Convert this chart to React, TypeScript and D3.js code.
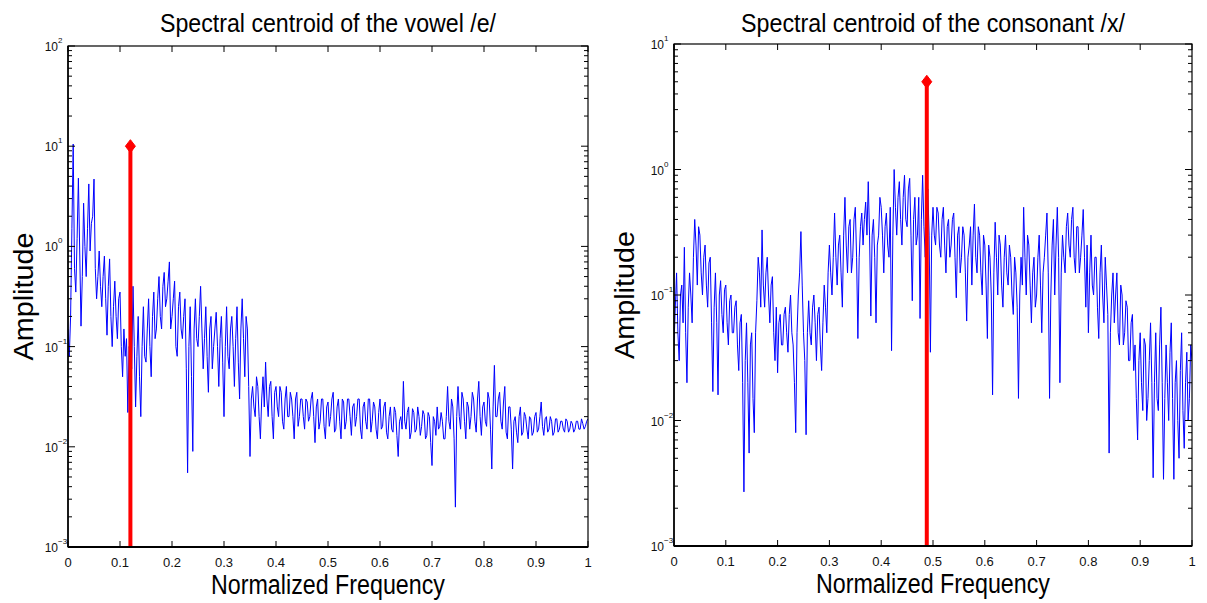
import React from "react";
import * as d3 from "d3";

// ---------- data (step 0.0025 in normalized frequency) ----------
const vowelAmp = [
  0.15, 0.08, 0.2, 1.5, 10.5, 0.6, 0.35, 1.2, 4.8, 0.9,
  0.16, 0.5, 2.7, 1.0, 0.5, 1.5, 4.2, 0.9, 1.7, 2.0,
  4.7, 0.6, 0.3, 0.5, 0.9, 0.4, 0.25, 0.5, 0.8, 0.3,
  0.13, 0.4, 0.75, 0.2, 0.1, 0.25, 0.45, 0.2, 0.12, 0.3,
  0.35, 0.1, 0.05, 0.15, 0.08, 0.12, 0.022, 0.1, 0.09, 0.06,
  0.4, 0.1, 0.025, 0.08, 0.2, 0.05, 0.02, 0.1, 0.25, 0.08,
  0.07, 0.15, 0.3, 0.1, 0.05, 0.2, 0.35, 0.12, 0.15, 0.3,
  0.5, 0.2, 0.15, 0.4, 0.55, 0.25, 0.3, 0.45, 0.7, 0.15,
  0.2, 0.3, 0.45, 0.1, 0.08, 0.25, 0.35, 0.15, 0.12, 0.2,
  0.3, 0.06, 0.0055, 0.1, 0.25, 0.05, 0.009, 0.15, 0.3, 0.12,
  0.1, 0.2, 0.4, 0.15, 0.06, 0.12, 0.25, 0.08, 0.035, 0.15,
  0.2, 0.06, 0.1, 0.15, 0.22, 0.1, 0.04, 0.12, 0.2, 0.07,
  0.02, 0.1, 0.25, 0.08, 0.06, 0.15, 0.2, 0.1, 0.04, 0.12,
  0.25, 0.07, 0.03, 0.15, 0.3, 0.12, 0.05, 0.2, 0.15, 0.04,
  0.008, 0.03, 0.04, 0.025, 0.02, 0.05, 0.04, 0.02, 0.012, 0.03,
  0.05, 0.025, 0.07, 0.03, 0.02, 0.04, 0.045, 0.02, 0.012, 0.035,
  0.04, 0.025, 0.02, 0.04, 0.035, 0.018, 0.015, 0.03, 0.04, 0.02,
  0.02, 0.035, 0.03, 0.02, 0.012, 0.03, 0.035, 0.016, 0.02, 0.03,
  0.03, 0.02, 0.015, 0.03, 0.028, 0.018, 0.02, 0.03, 0.035, 0.02,
  0.011, 0.025, 0.03, 0.015, 0.018, 0.03, 0.03, 0.016, 0.012, 0.025,
  0.028, 0.016, 0.02, 0.03, 0.035, 0.014, 0.015, 0.025, 0.03, 0.018,
  0.012, 0.03, 0.028, 0.015, 0.018, 0.03, 0.03, 0.02, 0.013, 0.025,
  0.027, 0.016, 0.02, 0.03, 0.03, 0.015, 0.012, 0.025, 0.028, 0.018,
  0.015, 0.03, 0.03, 0.014, 0.018, 0.028, 0.025, 0.015, 0.012, 0.022,
  0.03, 0.015, 0.016, 0.025, 0.028, 0.014, 0.012, 0.02, 0.025, 0.015,
  0.014, 0.025, 0.022, 0.013, 0.008, 0.018, 0.02, 0.015, 0.045, 0.018,
  0.015, 0.022, 0.025, 0.012, 0.014, 0.024, 0.022, 0.014, 0.015, 0.025,
  0.02, 0.013, 0.016, 0.023, 0.021, 0.012, 0.013, 0.022, 0.02, 0.011,
  0.0065, 0.02, 0.018, 0.013, 0.025, 0.015, 0.016, 0.022, 0.018, 0.012,
  0.012, 0.02, 0.04, 0.018, 0.015, 0.03, 0.025, 0.012, 0.0025, 0.02,
  0.04, 0.02, 0.015, 0.035, 0.03, 0.018, 0.012, 0.028, 0.025, 0.015,
  0.02, 0.035, 0.03, 0.018, 0.014, 0.03, 0.045, 0.02, 0.013, 0.025,
  0.028, 0.018, 0.016, 0.035, 0.03, 0.015, 0.006, 0.025, 0.065, 0.02,
  0.02, 0.03, 0.035, 0.018, 0.015, 0.028, 0.04, 0.014, 0.012, 0.025,
  0.025, 0.015, 0.006, 0.018, 0.02, 0.014, 0.011, 0.02, 0.025, 0.013,
  0.014, 0.022, 0.02, 0.015, 0.012, 0.02, 0.019, 0.013, 0.014, 0.02,
  0.022, 0.014, 0.015, 0.02, 0.028, 0.016, 0.013, 0.019, 0.02, 0.014,
  0.015, 0.02, 0.018, 0.013, 0.014, 0.019, 0.019, 0.014, 0.015, 0.018,
  0.018, 0.015, 0.014, 0.019, 0.018, 0.014, 0.015, 0.018, 0.017, 0.014,
  0.015, 0.018, 0.018, 0.015, 0.015, 0.019, 0.017, 0.015, 0.016, 0.018,
  0.019,
];

const consonantAmp = [
  0.04, 0.08, 0.15, 0.05, 0.03, 0.1, 0.12, 0.06, 0.24, 0.05,
  0.02, 0.08, 0.15, 0.1, 0.06, 0.2, 0.4, 0.25, 0.12, 0.35,
  0.3, 0.15, 0.1, 0.2, 0.25, 0.12, 0.08, 0.18, 0.2, 0.06,
  0.017, 0.08, 0.15, 0.06, 0.016, 0.1, 0.13, 0.07, 0.05, 0.11,
  0.12, 0.06, 0.04, 0.09, 0.1, 0.05, 0.05, 0.08, 0.09, 0.04,
  0.025, 0.06, 0.07, 0.02, 0.0027, 0.03, 0.06, 0.02, 0.0055, 0.04,
  0.05, 0.015, 0.008, 0.05, 0.09, 0.2, 0.15, 0.08, 0.33, 0.12,
  0.08, 0.15, 0.2, 0.1, 0.06, 0.12, 0.14, 0.05, 0.03, 0.08,
  0.024, 0.06, 0.07, 0.04, 0.04, 0.07, 0.08, 0.05, 0.035, 0.07,
  0.1, 0.05, 0.04, 0.02, 0.008, 0.05, 0.1, 0.15, 0.32, 0.12,
  0.05, 0.03, 0.0077, 0.05, 0.09, 0.05, 0.04, 0.08, 0.1, 0.06,
  0.03, 0.07, 0.08, 0.04, 0.025, 0.06, 0.12, 0.08, 0.05, 0.15,
  0.25, 0.15, 0.1, 0.2, 0.45, 0.2, 0.12, 0.25, 0.3, 0.15,
  0.08, 0.3, 0.6, 0.25, 0.15, 0.35, 0.4, 0.15, 0.2, 0.4,
  0.5, 0.2, 0.045, 0.2, 0.35, 0.45, 0.25, 0.4, 0.55, 0.3,
  0.8, 0.3, 0.068, 0.3, 0.4, 0.2, 0.06, 0.25, 0.3, 0.6,
  0.5, 0.3, 0.15, 0.35, 0.45, 0.25, 0.2, 0.5, 0.036, 0.3,
  1.0, 0.5, 0.3, 0.6, 0.8, 0.4, 0.25, 0.6, 0.9, 0.4,
  0.35, 0.7, 0.85, 0.3, 0.09, 0.4, 0.6, 0.25, 0.3, 0.6,
  0.065, 0.4, 0.9, 0.35, 0.2, 0.5, 0.7, 0.3, 0.035, 0.3,
  0.5, 0.3, 0.25, 0.5, 0.45, 0.25, 0.2, 0.4, 0.5, 0.25,
  0.15, 0.35, 0.4, 0.2, 0.25, 0.4, 0.45, 0.2, 0.095, 0.3,
  0.35, 0.15, 0.2, 0.35, 0.3, 0.15, 0.062, 0.2, 0.25, 0.35,
  0.12, 0.3, 0.53, 0.2, 0.15, 0.35, 0.3, 0.15, 0.1, 0.3,
  0.25, 0.12, 0.045, 0.25, 0.2, 0.1, 0.016, 0.15, 0.38, 0.2,
  0.1, 0.3, 0.25, 0.12, 0.08, 0.2, 0.3, 0.15, 0.12, 0.25,
  0.2, 0.1, 0.07, 0.2, 0.15, 0.08, 0.015, 0.1, 0.2, 0.12,
  0.5, 0.2, 0.1, 0.3, 0.25, 0.12, 0.06, 0.15, 0.2, 0.08,
  0.1, 0.2, 0.3, 0.12, 0.05, 0.15, 0.2, 0.3, 0.45, 0.15,
  0.015, 0.1, 0.25, 0.4, 0.1, 0.25, 0.5, 0.2, 0.02, 0.15,
  0.3, 0.2, 0.15, 0.35, 0.45, 0.25, 0.2, 0.4, 0.5, 0.2,
  0.15, 0.35, 0.35, 0.15, 0.2, 0.3, 0.48, 0.2, 0.08, 0.25,
  0.05, 0.15, 0.3, 0.12, 0.1, 0.2, 0.2, 0.08, 0.045, 0.15,
  0.25, 0.1, 0.06, 0.2, 0.12, 0.07, 0.0055, 0.05, 0.1, 0.15,
  0.06, 0.1, 0.15, 0.05, 0.04, 0.12, 0.1, 0.04, 0.05, 0.09,
  0.08, 0.03, 0.03, 0.06, 0.07, 0.025, 0.04, 0.015, 0.007, 0.03,
  0.05, 0.02, 0.012, 0.045, 0.04, 0.01, 0.015, 0.03, 0.06, 0.02,
  0.0035, 0.02, 0.05, 0.015, 0.012, 0.04, 0.08, 0.02, 0.0034, 0.015,
  0.04, 0.02, 0.01, 0.035, 0.06, 0.015, 0.0034, 0.02, 0.03, 0.01,
  0.005, 0.025, 0.05, 0.012, 0.006, 0.02, 0.035, 0.01, 0.015, 0.04,
  0.03,
];

const xTicks = [0, 0.1, 0.2, 0.3, 0.4, 0.5, 0.6, 0.7, 0.8, 0.9, 1];
const xTickLabels = ["0", "0.1", "0.2", "0.3", "0.4", "0.5", "0.6", "0.7", "0.8", "0.9", "1"];

const vowelExponents = [-3, -2, -1, 0, 1, 2];
const consonantExponents = [-3, -2, -1, 0, 1];

const vowelCentroid = { freq: 0.12, amp: 10 };
const consonantCentroid = { freq: 0.488, amp: 5 };

const titles = ["Spectral centroid of the vowel /e/", "Spectral centroid of the consonant /x/"];
const xLabel = "Normalized Frequency";
const yLabel = "Amplitude";

const FONT = "'Liberation Sans', Arial, Helvetica, sans-serif";

type PanelProps = {
  left: number;
  right: number;
  top: number;
  bottom: number;
  amps: number[];
  exps: number[];
  centroid: { freq: number; amp: number };
  title: string;
  titleWidth: number;
  ylabelX: number;
};

function Panel(p: PanelProps) {
  const x = d3.scaleLinear().domain([0, 1]).range([p.left, p.right]);
  const y = d3
    .scaleLog()
    .domain([Math.pow(10, p.exps[0]), Math.pow(10, p.exps[p.exps.length - 1])])
    .range([p.bottom, p.top]);
  const step = 1 / (p.amps.length - 1);
  const pts: [number, number][] = p.amps.map((a, i) => [i * step, a]);
  const line = d3
    .line<[number, number]>()
    .x((d) => x(d[0]))
    .y((d) => y(d[1]));

  const minor: number[] = [];
  for (let k = 0; k < p.exps.length - 1; k++) {
    for (let m = 2; m <= 9; m++) minor.push(m * Math.pow(10, p.exps[k]));
  }
  const cx = x(p.centroid.freq);
  const cy = y(p.centroid.amp);
  const midX = (p.left + p.right) / 2;
  const midY = (p.top + p.bottom) / 2;

  return (
    <g>
      <text
        x={midX}
        y={32}
        fontSize={26}
        fontFamily={FONT}
        textAnchor="middle"
        textLength={p.titleWidth}
        lengthAdjust="spacingAndGlyphs"
      >
        {p.title}
      </text>
      <defs>
        <clipPath id={`clip${p.left}`}>
          <rect x={p.left} y={p.top} width={p.right - p.left} height={p.bottom - p.top} />
        </clipPath>
      </defs>
      <g clipPath={`url(#clip${p.left})`}>
        <path d={line(pts) || ""} fill="none" stroke="#0000ff" strokeWidth={1} />
      </g>
      <line x1={cx} x2={cx} y1={p.bottom} y2={cy} stroke="#ff0000" strokeWidth={4} />
      <path
        d={`M${cx},${cy - 6.5} L${cx + 5},${cy} L${cx},${cy + 6.5} L${cx - 5},${cy} Z`}
        fill="#ff0000"
        stroke="#ff0000"
        strokeWidth={1}
      />
      <rect
        x={p.left}
        y={p.top}
        width={p.right - p.left}
        height={p.bottom - p.top}
        fill="none"
        stroke="#000"
        strokeWidth={1.2}
      />
      <line x1={p.left} x2={p.right} y1={p.bottom} y2={p.bottom} stroke="#000" strokeWidth={2} />
      <line x1={p.left} x2={p.left} y1={p.top} y2={p.bottom} stroke="#000" strokeWidth={1.5} />
      {xTicks.map((t, i) => (
        <g key={"xt" + i}>
          <line x1={x(t)} x2={x(t)} y1={p.bottom} y2={p.bottom - 6} stroke="#000" strokeWidth={1} />
          <line x1={x(t)} x2={x(t)} y1={p.top} y2={p.top + 6} stroke="#000" strokeWidth={1} />
          <text x={x(t)} y={p.bottom + 20} fontSize={13} fontFamily={FONT} textAnchor="middle" fill="#111">
            {xTickLabels[i]}
          </text>
        </g>
      ))}
      {minor.map((v, i) => (
        <g key={"ym" + i}>
          <line x1={p.left} x2={p.left + 4} y1={y(v)} y2={y(v)} stroke="#000" strokeWidth={1} />
          <line x1={p.right} x2={p.right - 4} y1={y(v)} y2={y(v)} stroke="#000" strokeWidth={1} />
        </g>
      ))}
      {p.exps.map((e, i) => {
        const yy = y(Math.pow(10, e));
        return (
          <g key={"yM" + i}>
            <line x1={p.left} x2={p.left + 7} y1={yy} y2={yy} stroke="#000" strokeWidth={1} />
            <line x1={p.right} x2={p.right - 7} y1={yy} y2={yy} stroke="#000" strokeWidth={1} />
            <text x={p.left - 10} y={yy + 5} fontSize={12} fontFamily={FONT} textAnchor="end" fill="#111">
              10
            </text>
            <text x={p.left - 10} y={yy - 3} fontSize={8} fontFamily={FONT} textAnchor="start" fill="#111">
              {e < 0 ? "\u2212" + Math.abs(e) : String(e)}
            </text>
          </g>
        );
      })}
      <text
        x={midX}
        y={p.bottom + 47}
        fontSize={27}
        fontFamily={FONT}
        textAnchor="middle"
        textLength={234}
        lengthAdjust="spacingAndGlyphs"
      >
        {xLabel}
      </text>
      <text
        transform={`translate(${p.ylabelX},${midY}) rotate(-90)`}
        fontSize={27}
        fontFamily={FONT}
        textAnchor="middle"
        textLength={128}
        lengthAdjust="spacingAndGlyphs"
      >
        {yLabel}
      </text>
    </g>
  );
}

export default function App() {
  return (
    <svg width={1207} height={603} style={{ position: "absolute", left: 0, top: 0, background: "#fff" }}>
      <rect x={0} y={0} width={1207} height={603} fill="#fff" />
      <Panel
        left={68}
        right={588}
        top={46}
        bottom={547}
        amps={vowelAmp}
        exps={vowelExponents}
        centroid={vowelCentroid}
        title={titles[0]}
        titleWidth={336}
        ylabelX={33}
      />
      <Panel
        left={674}
        right={1192}
        top={44}
        bottom={546}
        amps={consonantAmp}
        exps={consonantExponents}
        centroid={consonantCentroid}
        title={titles[1]}
        titleWidth={384}
        ylabelX={634}
      />
    </svg>
  );
}
